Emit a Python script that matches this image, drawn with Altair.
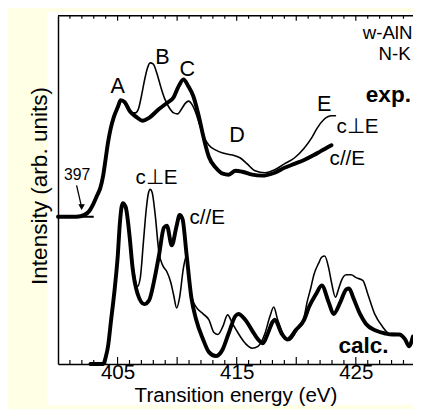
import altair as alt
import pandas as pd

# ---------------- data ----------------
# experimental, c//E (thick)
exp_par_ev = [400.00, 401.56, 402.22, 402.63, 402.96, 403.29, 403.54, 403.79, 403.95, 404.20,
              404.44, 404.69, 405.02, 405.27, 405.60, 406.01, 406.67, 407.08, 407.65, 408.48,
              409.14, 409.71, 410.12, 410.53, 410.95, 411.36, 411.85, 412.18, 412.67, 413.25,
              413.83, 414.32, 414.90, 415.47, 416.30, 417.12, 418.19, 419.01, 419.84, 420.66,
              421.48, 422.06, 422.96]
exp_par_int = [150, 150, 152, 156, 163, 172, 179, 192, 205, 226,
               241, 252, 262, 269, 267, 258, 251, 248, 251, 260,
               266, 272, 283, 290, 283, 273, 251, 233, 211, 200,
               194, 193, 197, 196, 193, 192, 195, 200, 204, 208,
               213, 217, 223]

# experimental, c perp E (thin)
exp_perp_ev = [400.00, 401.56, 402.22, 402.63, 402.96, 403.29, 403.54, 403.79, 403.95, 404.20,
               404.44, 404.69, 405.02, 405.27, 405.68, 406.09, 406.50, 406.75, 407.00, 407.24,
               407.49, 407.74, 407.98, 408.31, 408.64, 408.97, 409.30, 409.71, 410.04, 410.37,
               410.70, 410.95, 411.28, 411.60, 411.93, 412.26, 412.67, 413.25, 413.83, 414.65,
               415.31, 415.88, 416.54, 417.37, 418.19, 419.01, 419.84, 420.66, 421.32, 421.73,
               422.30, 422.96, 423.29]
exp_perp_int = [150, 150, 152, 156, 163, 172, 179, 192, 205, 226,
                241, 252, 262, 269, 264, 256, 256, 260, 273, 288,
                301, 307, 306, 296, 282, 270, 262, 256, 255, 260,
                266, 268, 264, 255, 242, 231, 223, 218, 215, 213,
                210, 204, 197, 195, 198, 204, 210, 220, 231, 240,
                249, 253, 253]

# calculated, c//E (thick)
calc_par_ev = [402.72, 403.79, 404.03, 404.20, 404.44, 404.77, 405.02, 405.19, 405.43, 405.68,
               406.01, 406.26, 406.67, 407.24, 407.65, 408.07, 408.48, 408.89, 409.14, 409.55,
               409.96, 410.21, 410.45, 410.78, 411.19, 411.60, 412.18, 412.67, 413.25, 413.83,
               414.32, 414.90, 415.14, 415.72, 416.30, 416.79, 417.20, 417.61, 418.02, 418.19,
               418.77, 419.26, 420.00, 420.66, 421.07, 421.65, 422.14, 422.72, 423.13, 423.70,
               424.20, 424.44, 424.77, 425.35, 425.84, 426.67, 427.49, 428.07, 428.64, 429.14,
               429.47, 429.79]
calc_par_int = [0, 0, 8, 18, 43, 78, 111, 143, 164, 160,
                130, 98, 72, 61, 65, 85, 111, 139, 141, 121,
                141, 152, 148, 113, 68, 45, 25, 12, 8, 15,
                31, 49, 51, 45, 34, 25, 21, 31, 43, 45,
                31, 25, 35, 45, 58, 71, 80, 63, 51, 63,
                76, 77, 68, 51, 41, 34, 31, 30, 30, 25,
                18, 28]

# calculated, c perp E (thin)
calc_perp_ev = [402.72, 403.79, 404.03, 404.20, 404.44, 404.77, 405.02, 405.19, 405.43, 405.68,
                406.01, 406.34, 406.67, 406.91, 407.16, 407.41, 407.57, 407.74, 407.90, 408.15,
                408.48, 408.81, 409.14, 409.47, 409.71, 409.96, 410.21, 410.53, 410.78, 411.03,
                411.28, 411.60, 412.18, 412.67, 413.09, 413.42, 413.83, 414.24, 414.65, 415.14,
                415.72, 416.30, 416.79, 417.37, 417.78, 418.11, 418.44, 419.01, 419.42, 420.08,
                420.66, 420.91, 421.23, 421.48, 421.89, 422.14, 422.39, 422.72, 422.96, 423.29,
                423.54, 423.79, 424.20, 424.61, 425.02, 425.60, 426.01, 426.58, 427.24, 427.82,
                428.23, 428.64, 429.14, 429.47, 429.79]
calc_perp_int = [0, 0, 8, 18, 43, 78, 111, 143, 164, 158,
                 128, 96, 79, 88, 123, 158, 173, 178, 175, 153,
                 113, 100, 94, 83, 70, 57, 68, 98, 110, 86,
                 66, 58, 51, 45, 32, 30, 38, 50, 41, 31,
                 21, 16, 18, 31, 48, 58, 45, 28, 24, 35,
                 48, 63, 78, 91, 103, 109, 110, 98, 83, 68,
                 76, 85, 91, 91, 88, 85, 71, 51, 38, 31,
                 31, 30, 25, 18, 28]

tick_labels = [405, 415, 425]
major_ticks = [405, 410, 415, 420, 425]
minor_ticks = [v for v in range(401, 430) if v not in major_ticks]

# annotations
ann_text = ["A", "B", "C", "D", "E"]
ann_ev = [405.02, 408.77, 410.86, 415.02, 422.35]
ann_int = [276, 306, 294, 226, 258]

lab_text = ["c\u22a5E", "c//E", "c\u22a5E", "c//E"]
lab_ev = [423.37, 422.80, 406.50, 411.03]
lab_int = [236, 203, 183, 143]

corner_text = ["w-AlN", "N-K"]
corner_ev = [429.75, 429.6]
corner_int = [331, 310]

bold_text = ["exp.", "calc."]
bold_ev = [425.84, 423.54]
bold_int = [267, 11]

onset_text = ["397"]
onset_ev = [401.6]
onset_int = [188]
arrow_ev = [401.56]
arrow_ev2 = [401.98]
arrow_int = [182]
arrow_int2 = [160]
base_ev = [400.0]
base_ev2 = [403.0]
base_int = [150]

# ---------------- chart ----------------
W, H = 362, 355
FONT = "Liberation Sans"

xs = alt.Scale(domain=[400, 429.8], nice=False, zero=False)
ys = alt.Scale(domain=[0, 355], nice=False, zero=False)

X = alt.X("ev:Q", scale=xs, axis=alt.Axis(
    values=tick_labels, ticks=False, tickSize=0, labelPadding=15,
    labelBaseline="alphabetic", labelFontSize=21, labelFont=FONT, labelColor="black",
    domainColor="black", domainWidth=1.5, grid=False,
    title="Transition energy (eV)", titleFont=FONT, titleFontSize=21,
    titleFontWeight="normal", titleColor="black", titleBaseline="alphabetic",
    titleY=38, titleX=W / 2, titleAlign="center", zindex=1))
Y = alt.Y("I:Q", scale=ys, axis=alt.Axis(
    labels=False, ticks=False, domain=True, domainColor="black", domainWidth=1.5,
    grid=False, title="Intensity (arb. units)", titleFont=FONT, titleFontSize=23,
    titleFontWeight="normal", titleColor="black", titleAngle=270,
    titleBaseline="alphabetic", titleAlign="center", titleX=-12, titleY=173, zindex=1))


def curve(ev, it, w):
    df = pd.DataFrame({"ev": ev, "I": it, "o": list(range(len(ev)))})
    return alt.Chart(df).mark_line(
        color="black", strokeWidth=w, interpolate="monotone",
        strokeCap="round", strokeJoin="round").encode(x=X, y=Y, order="o:Q")


def texts(txt, ev, it, size, align="center", weight="normal"):
    df = pd.DataFrame({"ev": ev, "I": it, "t": txt})
    return alt.Chart(df).mark_text(
        font=FONT, fontSize=size, fontWeight=weight, align=align,
        baseline="alphabetic", color="black").encode(
        x=alt.X("ev:Q", scale=xs), y=alt.Y("I:Q", scale=ys), text="t:N")


bg = alt.Chart(pd.DataFrame({"a": [0]})).mark_rect(color="white").encode(
    x=alt.value(-11), x2=alt.value(W), y=alt.value(-4), y2=alt.value(H + 42))

top_line = alt.Chart(pd.DataFrame({"a": [0]})).mark_rule(
    color="black", strokeWidth=1.5).encode(
    x=alt.value(0), x2=alt.value(W), y=alt.value(0))


def tick_layer(vals, y0, y1):
    return alt.Chart(pd.DataFrame({"ev": vals})).mark_rule(
        color="black", strokeWidth=1.2).encode(
        x=alt.X("ev:Q", scale=xs), y=alt.value(y0), y2=alt.value(y1))


ticks = [tick_layer(minor_ticks, H, H - 4), tick_layer(major_ticks, H, H - 7),
         tick_layer(minor_ticks, 0, 3), tick_layer(major_ticks, 0, 5)]

arrow = alt.Chart(pd.DataFrame({"ev": arrow_ev, "ev2": arrow_ev2, "I": arrow_int,
                                "I2": arrow_int2})).mark_rule(
    color="black", strokeWidth=1.3).encode(
    x=alt.X("ev:Q", scale=xs), x2="ev2:Q", y=alt.Y("I:Q", scale=ys), y2="I2:Q")
arrow_head = alt.Chart(pd.DataFrame({"ev": arrow_ev2, "I": arrow_int2})).mark_point(
    shape="triangle-down", filled=True, color="black", size=45, opacity=1).encode(
    x=alt.X("ev:Q", scale=xs), y=alt.Y("I:Q", scale=ys))
baseline = alt.Chart(pd.DataFrame({"ev": base_ev, "ev2": base_ev2, "I": base_int})).mark_rule(
    color="black", strokeWidth=2).encode(
    x=alt.X("ev:Q", scale=xs), x2="ev2:Q", y=alt.Y("I:Q", scale=ys))

layers = [bg,
          curve(exp_perp_ev, exp_perp_int, 1.6),
          curve(exp_par_ev, exp_par_int, 4),
          curve(calc_perp_ev, calc_perp_int, 1.6),
          curve(calc_par_ev, calc_par_int, 4),
          baseline, arrow, arrow_head, top_line] + ticks + [
          texts(ann_text, ann_ev, ann_int, 22),
          texts(lab_text, lab_ev, lab_int, 21, align="left"),
          texts(corner_text, corner_ev, corner_int, 19, align="right"),
          texts(bold_text, bold_ev, bold_int, 23, align="left", weight="bold"),
          texts(onset_text, onset_ev, onset_int, 16)]

chart = alt.layer(*layers).properties(
    width=W, height=H,
    autosize=alt.AutoSizeParams(type="none"),
    padding={"left": 51, "top": 4, "right": 0, "bottom": 42},
    background="#FFFFE6",
).configure_view(stroke=None)

chart.save("out.html", embed_options={"renderer": "svg", "actions": False})
